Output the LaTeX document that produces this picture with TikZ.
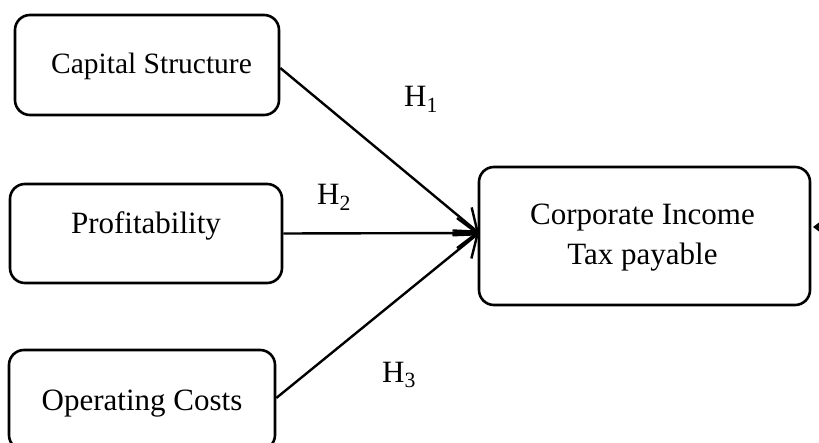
\documentclass[tikz,border=0pt]{standalone}
\usepackage{fontspec}
\setmainfont{Liberation Serif}
\usetikzlibrary{arrows.meta}
\begin{document}
\begin{tikzpicture}[x=1pt,y=-1pt,
  box/.style={draw,line width=2.6pt,rounded corners=15pt,inner sep=0pt},
  txt/.style={font=\fontsize{31}{40}\selectfont,inner sep=0pt,anchor=base},
  conn/.style={line width=2.4pt,-{Straight Barb[length=20pt,width=30pt,line width=2.4pt]}},
  hlab/.style={font=\fontsize{31}{34}\selectfont,inner sep=0pt,anchor=base west}]
\useasboundingbox (0,0) rectangle (819,443);
\node[box,minimum width=264pt,minimum height=100pt] (cs) at (147,65) {};
\node[box,minimum width=272pt,minimum height=99pt] (pr) at (146,233.5) {};
\node[box,minimum width=266pt,minimum height=100pt] (oc) at (142,400) {};
\node[box,minimum width=331pt,minimum height=138pt] (ct) at (644.5,236) {};
\node[txt,font=\fontsize{29.5}{40}\selectfont] (tcs) at (151.5,74) {Capital Structure};
\node[txt] (tpr) at (146,234) {Profitability};
\node[txt] (toc) at (142,410) {Operating Costs};
\node[txt] (tct1) at (642.5,225) {Corporate Income};
\node[txt] (tct2) at (642.5,265) {Tax payable};
\coordinate (tip) at (479,233);
\coordinate (rt) at (870,227);
\coordinate (rtip) at (813,227);
\draw[conn] (cs.east) ++(0,3) -- (tip);
\draw[conn] (pr.east) -- (tip);
\draw[conn] (oc.east) ++(0,-2) -- (tip);
\draw[conn] (rt) -- (rtip);
\node[hlab] (h1) at (404,107) {H\textsubscript{1}};
\node[hlab] (h2) at (317,205) {H\textsubscript{2}};
\node[hlab] (h3) at (382,382) {H\textsubscript{3}};
\end{tikzpicture}
\end{document}
